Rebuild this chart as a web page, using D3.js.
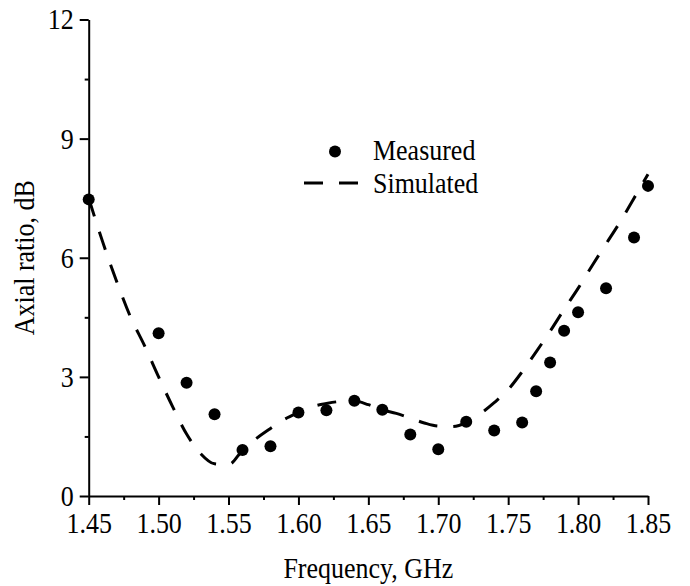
<!DOCTYPE html>
<html>
<head>
<meta charset="utf-8">
<script src="https://cdn.jsdelivr.net/npm/d3@7"></script>
<style>
  body { margin: 0; background: #fff; }
  svg text { font-family: "Liberation Serif", "Times New Roman", serif; fill: #000; }
</style>
</head>
<body>
<div id="chart"></div>
<script>
    // measured axial ratio
    var measFreq = [1.45, 1.50, 1.52, 1.54, 1.56, 1.58, 1.60, 1.62, 1.64, 1.66, 1.68, 1.70, 1.72, 1.74, 1.76, 1.77, 1.78, 1.79, 1.80, 1.82, 1.84, 1.85];
    var measAR = [7.47, 4.10, 2.85, 2.06, 1.16, 1.25, 2.10, 2.16, 2.40, 2.17, 1.55, 1.18, 1.87, 1.65, 1.85, 2.64, 3.36, 4.16, 4.63, 5.23, 6.51, 7.81];

    // simulated axial ratio
    var simFreq = [1.45, 1.46, 1.47, 1.48, 1.49, 1.50, 1.51, 1.52, 1.53, 1.54, 1.55, 1.56, 1.57, 1.58, 1.59, 1.60, 1.61, 1.62, 1.63, 1.64, 1.65, 1.66, 1.67, 1.68, 1.69, 1.70, 1.71, 1.72, 1.73, 1.74, 1.75, 1.76, 1.77, 1.78, 1.79, 1.80, 1.81, 1.82, 1.83, 1.84, 1.85];
    var simAR = [7.5, 6.4, 5.4, 4.5, 3.78, 3.0, 2.25, 1.56, 1.07, 0.81, 0.79, 1.15, 1.45, 1.70, 1.93, 2.10, 2.25, 2.33, 2.38, 2.39, 2.30, 2.17, 2.08, 1.96, 1.84, 1.76, 1.75, 1.85, 2.07, 2.35, 2.68, 3.13, 3.63, 4.15, 4.70, 5.23, 5.80, 6.35, 6.90, 7.50, 8.10];

    var xTicks = [1.45, 1.50, 1.55, 1.60, 1.65, 1.70, 1.75, 1.80, 1.85];
    var xMinor = [1.475, 1.525, 1.575, 1.625, 1.675, 1.725, 1.775, 1.825];
    var yTicks = [0, 3, 6, 9, 12];
    var yMinor = [1.5, 4.5, 7.5, 10.5];
    var legendNames = ["Measured", "Simulated"];

    var W = 690, H = 586;
    var mLeft = 88.7, mRight = 648, mTop = 19.5, mBottom = 496;
    var fs = "29.5px";

    var svg = d3.select("#chart").append("svg").attr("width", W).attr("height", H);

    var x = d3.scaleLinear().domain([1.45, 1.85]).range([mLeft, mRight]);
    var y = d3.scaleLinear().domain([0, 12]).range([mBottom, mTop]);

    // axes
    svg.append("g").attr("transform", "translate(0," + mBottom + ")")
      .call(d3.axisBottom(x).tickValues(xTicks).tickFormat(d3.format(".2f")).tickSize(9).tickPadding(7).tickSizeOuter(0));
    svg.append("g").attr("transform", "translate(0," + mBottom + ")")
      .call(d3.axisBottom(x).tickValues(xMinor).tickFormat("").tickSize(4).tickSizeOuter(0))
      .select(".domain").remove();

    svg.append("g").attr("transform", "translate(" + mLeft + ",0)")
      .call(d3.axisLeft(y).tickValues(yTicks).tickSize(9).tickPadding(6).tickSizeOuter(0));
    svg.append("g").attr("transform", "translate(" + mLeft + ",0)")
      .call(d3.axisLeft(y).tickValues(yMinor).tickFormat("").tickSize(4).tickSizeOuter(0))
      .select(".domain").remove();

    svg.selectAll(".domain, .tick line").style("stroke", "#000").style("stroke-width", 2);
    svg.selectAll(".tick text").style("font-size", fs).style("font-family", "Liberation Serif");

    // axis titles
    svg.append("text")
      .attr("x", (mLeft + mRight) / 2).attr("y", 578)
      .style("font-size", fs).style("text-anchor", "middle")
      .text("Frequency, GHz");

    svg.append("text")
      .attr("transform", "translate(34," + ((mTop + mBottom) / 2) + ") rotate(-90)")
      .style("font-size", fs).style("text-anchor", "middle")
      .text("Axial ratio, dB");

    // simulated curve
    var simData = simFreq.map(function(d, i) { return [d, simAR[i]]; });
    var line = d3.line()
      .x(function(d) { return x(d[0]); })
      .y(function(d) { return y(d[1]); })
      .curve(d3.curveMonotoneX);

    svg.append("path").datum(simData)
      .attr("d", line)
      .style("fill", "none").style("stroke", "#000")
      .style("stroke-width", 3).style("stroke-dasharray", "19,16");

    // measured dots
    svg.selectAll("circle.meas")
      .data(measFreq).enter().append("circle")
      .attr("class", "meas")
      .attr("cx", function(d) { return x(d); })
      .attr("cy", function(d, i) { return y(measAR[i]); })
      .attr("r", 6).style("fill", "#000");

    // legend
    var lg = svg.append("g");
    lg.append("circle").attr("cx", 335).attr("cy", 151.5).attr("r", 6).style("fill", "#000");
    lg.append("path").attr("d", "M304,183H358")
      .style("stroke", "#000").style("stroke-width", 3).style("stroke-dasharray", "19,16");
    lg.selectAll("text.lg")
      .data(legendNames).enter().append("text")
      .attr("class", "lg")
      .attr("x", 373)
      .attr("y", function(d, i) { return 160 + i * 33; })
      .style("font-size", fs)
      .text(function(d) { return d; });

    // the original typeface is narrower than Liberation Serif, squeeze a bit
    svg.selectAll("text").each(function() {
      var w = this.getComputedTextLength();
      if (w > 0) d3.select(this).attr("textLength", w * 0.88).attr("lengthAdjust", "spacingAndGlyphs");
    });
</script>
</body>
</html>
